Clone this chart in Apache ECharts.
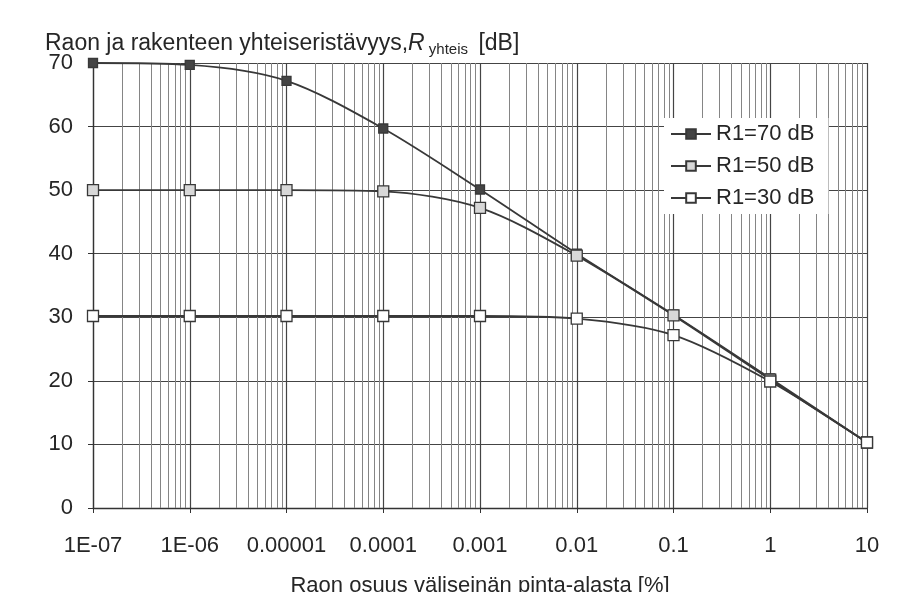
<!DOCTYPE html>
<html>
<head>
<meta charset="utf-8">
<script src="https://cdn.jsdelivr.net/npm/echarts@6/dist/echarts.min.js"></script>
</head>
<body style="margin:0; background:#fff">
<div id="chart" style="width: 901px; height: 592px;"></div>
<script>
    var xValues = [1e-7, 1e-6, 1e-5, 1e-4, 1e-3, 0.01, 0.1, 1, 10];
    var xTickLabels = ['1E-07', '1E-06', '0.00001', '0.0001', '0.001', '0.01', '0.1', '1', '10'];
    var r70 = [70, 69.7, 67.2, 59.7, 50.1, 40, 30.4, 20.4, 10.3];
    var r50 = [50, 50, 50, 49.8, 47.2, 39.7, 30.3, 20.2, 10.3];
    var r30 = [30.2, 30.2, 30.2, 30.2, 30.2, 29.8, 27.2, 19.9, 10.3];
    var seriesNames = ['R1=70 dB', 'R1=50 dB', 'R1=30 dB'];

    // minor log grid lines 2..9 in every decade
    var minorLines = [];
    for (var e = -7; e < 1; e++) {
        for (var k = 2; k <= 9; k++) {
            minorLines.push({xAxis: k * Math.pow(10, e)});
        }
    }

    function pairs(ys) {
        return xValues.map(function (x, i) { return [x, ys[i]]; });
    }

    var lineColor = '#383838';
    var txt = '#262626';
    function makeSeries(name, ys, fill, size) {
        return {
            name: name,
            type: 'line',
            data: pairs(ys),
            smooth: 0.3,
            z: 3,
            symbol: 'rect',
            symbolSize: size,
            lineStyle: {color: lineColor, width: 1.8},
            itemStyle: {color: fill, borderColor: lineColor, borderWidth: 1.3},
            emphasis: {disabled: true}
        };
    }

    var myChart = echarts.init(document.getElementById('chart'));
    var option = {
        animation: false,
        textStyle: {fontFamily: 'Liberation Sans, Arial, sans-serif'},
        title: {
            left: 40,
            top: 26,
            text: '{a|Raon ja rakenteen yhteiseristävyys,}{i|R}{s| yhteis}{a| [dB]}',
            textStyle: {
                fontWeight: 'normal',
                rich: {
                    a: {fontSize: 23, color: txt, fontFamily: 'Liberation Sans'},
                    i: {fontSize: 23, color: txt, fontStyle: 'italic', fontFamily: 'Liberation Sans'},
                    s: {fontSize: 15, color: txt, fontFamily: 'Liberation Sans', padding: [11, 4, 0, 0]}
                }
            }
        },
        legend: {
            data: seriesNames,
            orient: 'vertical',
            left: 664,
            top: 118,
            z: 10,
            itemWidth: 40,
            itemHeight: 12,
            itemGap: 10,
            padding: [5, 14, 5, 6],
            backgroundColor: '#fff',
            textStyle: {fontSize: 22, color: txt}
        },
        grid: {left: 93, right: 34, top: 63, bottom: 84, outerBoundsMode: 'none', containLabel: false},
        xAxis: {
            type: 'log',
            logBase: 10,
            min: 1e-7,
            max: 10,
            splitNumber: 8,
            name: 'Raon osuus väliseinän pinta-alasta [%]',
            nameLocation: 'middle',
            nameGap: 67,
            nameTextStyle: {fontSize: 22, color: txt},
            axisLine: {lineStyle: {color: '#333', width: 1.3}},
            axisTick: {show: true, length: 5, lineStyle: {color: '#333'}},
            axisLabel: {
                fontSize: 22,
                color: txt,
                margin: 27,
                formatter: function (v) {
                    var e = Math.round(Math.log(v) / Math.LN10);
                    return xTickLabels[e + 7];
                }
            },
            splitLine: {show: true, lineStyle: {color: '#444', width: 1.2}}
        },
        yAxis: {
            type: 'value',
            min: 0,
            max: 70,
            interval: 10,
            axisLine: {show: true, lineStyle: {color: '#333', width: 1.3}},
            axisTick: {show: true, length: 5, lineStyle: {color: '#333'}},
            axisLabel: {fontSize: 22, color: txt, margin: 20},
            splitLine: {show: true, lineStyle: {color: '#444', width: 1.2}}
        },
        series: [
            {
                name: 'grid',
                type: 'line',
                data: [],
                z: 1,
                markLine: {
                    silent: true,
                    z: 1,
                    precision: 12,
                    symbol: ['none', 'none'],
                    label: {show: false},
                    lineStyle: {type: 'solid', color: '#858585', width: 1},
                    data: minorLines
                }
            },
            makeSeries(seriesNames[0], r70, '#444', 9),
            makeSeries(seriesNames[1], r50, '#d8d8d8', 11),
            makeSeries(seriesNames[2], r30, '#fff', 11)
        ]
    };
    myChart.setOption(option);
</script>
</body>
</html>
